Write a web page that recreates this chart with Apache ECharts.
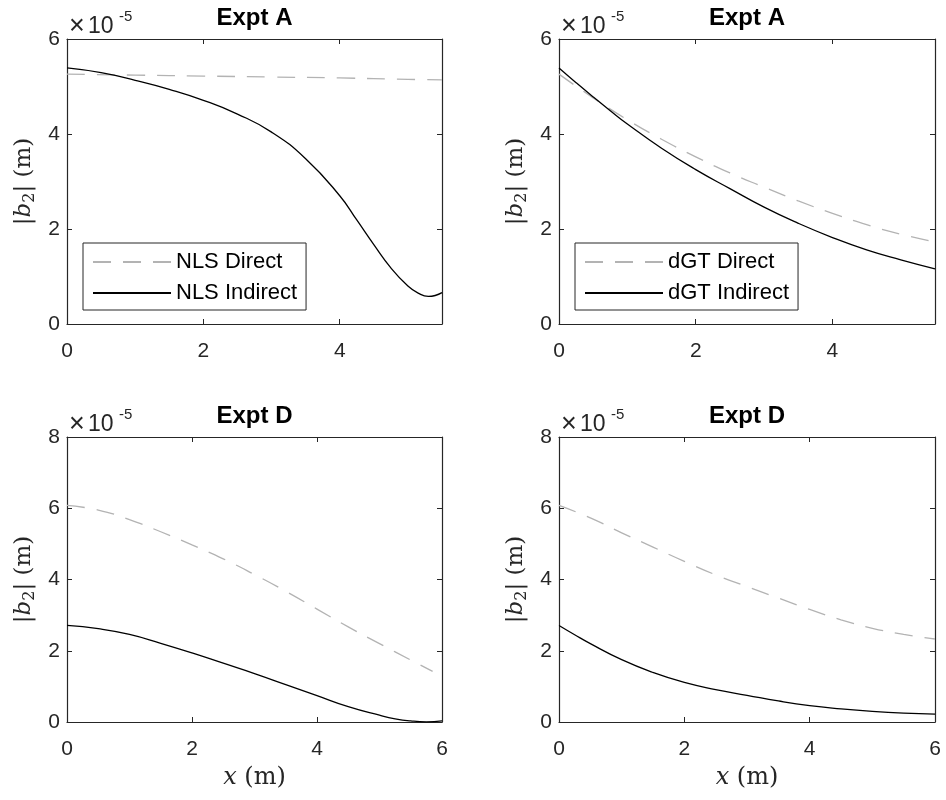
<!DOCTYPE html>
<html><head><meta charset="utf-8">
<script src="https://cdn.jsdelivr.net/npm/echarts@6/dist/echarts.min.js"></script>
<style>html,body{margin:0;padding:0;background:#fff}#c{width:946px;height:800px}</style>
</head><body><div id="c"></div><script>
// y values in units of 1e-5 m
const titles = ['Expt A', 'Expt A', 'Expt D', 'Expt D'];
const legendA1 = ['NLS Direct', 'NLS Indirect'];
const legendA2 = ['dGT Direct', 'dGT Indirect'];

const xNLSA_dir = [0, 1, 2, 3, 4, 5, 5.5];
const yNLSA_dir = [5.26, 5.24, 5.22, 5.20, 5.18, 5.15, 5.14];
const xNLSA_ind = [0, 0.5, 1, 1.5, 2, 2.5, 3, 3.5, 4, 4.25, 4.5, 4.75, 5, 5.15, 5.3, 5.4, 5.5];
const yNLSA_ind = [5.39, 5.29, 5.13, 4.94, 4.71, 4.42, 4.04, 3.48, 2.70, 2.19, 1.67, 1.18, 0.80, 0.65, 0.58, 0.60, 0.66];

const xDGTA_dir = [0, 0.5, 1, 1.5, 2, 2.5, 3, 3.5, 4, 4.5, 5, 5.5];
const yDGTA_dir = [5.26, 4.76, 4.30, 3.89, 3.52, 3.18, 2.88, 2.59, 2.33, 2.09, 1.89, 1.73];
const xDGTA_ind = [0, 0.25, 0.5, 0.75, 1, 1.5, 2, 2.5, 3, 3.5, 4, 4.5, 5, 5.5];
const yDGTA_ind = [5.39, 5.08, 4.78, 4.49, 4.21, 3.70, 3.25, 2.85, 2.46, 2.12, 1.82, 1.56, 1.35, 1.16];

const xNLSD_dir = [0, 0.5, 1, 1.5, 2, 2.5, 3, 3.5, 4, 4.5, 5, 5.5, 5.85];
const yNLSD_dir = [6.08, 5.95, 5.68, 5.34, 4.97, 4.58, 4.14, 3.67, 3.17, 2.67, 2.20, 1.74, 1.42];
const xNLSD_ind = [0, 0.5, 1, 1.5, 2, 2.5, 3, 3.5, 4, 4.5, 5, 5.25, 5.5, 5.75, 6];
const yNLSD_ind = [2.71, 2.62, 2.46, 2.21, 1.94, 1.65, 1.36, 1.05, 0.74, 0.43, 0.19, 0.09, 0.03, 0.005, 0.03];

const xDGTD_dir = [0, 0.5, 1, 1.5, 2, 2.5, 3, 3.5, 4, 4.5, 5, 5.5, 6];
const yDGTD_dir = [6.08, 5.73, 5.31, 4.91, 4.51, 4.13, 3.80, 3.48, 3.16, 2.87, 2.63, 2.46, 2.33];
const xDGTD_ind = [0, 0.25, 0.5, 1, 1.5, 2, 2.5, 3, 3.5, 4, 4.5, 5, 5.5, 6];
const yDGTD_ind = [2.71, 2.45, 2.20, 1.75, 1.39, 1.11, 0.91, 0.75, 0.59, 0.46, 0.37, 0.30, 0.25, 0.22];

const pairs = (xs, ys) => xs.map((x, i) => [x, ys[i]]);

const grids = [
  {left: 67, top: 39, width: 375, height: 285},
  {left: 559, top: 39, width: 376, height: 285},
  {left: 67, top: 437, width: 375, height: 285},
  {left: 559, top: 437, width: 376, height: 285}
];
const xMax = [5.5, 5.5, 6, 6];
const yMax = [6, 6, 8, 8];
const AX = '#262626';
const SANS = 'Liberation Sans, Arial, Helvetica, sans-serif';
const SERIF = 'DejaVu Serif, serif';

const yName = '{a||}{b|b}{s|2}{a|| (m)}';
const yRich = {
  a: {fontFamily: SERIF, fontSize: 23, color: AX, lineHeight: 27},
  b: {fontFamily: SERIF, fontStyle: 'italic', fontSize: 23, color: AX, lineHeight: 27},
  s: {fontFamily: SERIF, fontSize: 16, color: AX, verticalAlign: 'bottom', lineHeight: 10}
};
const xName = '{i|x}{a| (m)}';
const xRich = {
  i: {fontFamily: SERIF, fontStyle: 'italic', fontSize: 24, color: AX},
  a: {fontFamily: SERIF, fontSize: 24, color: AX}
};

const xAxes = [], yAxes = [];
for (let i = 0; i < 4; i++) {
  xAxes.push({
    type: 'value', gridIndex: i, min: 0, max: xMax[i], interval: 2, position: 'bottom',
    axisLine: {show: true, onZero: false, lineStyle: {color: AX, width: 1.2}},
    axisTick: {show: true, inside: true, length: 5, lineStyle: {color: AX}},
    axisLabel: {show: true, color: AX, fontSize: 21, fontFamily: SANS, margin: 17, showMaxLabel: i >= 2},
    splitLine: {show: false},
    name: i >= 2 ? xName : '', nameLocation: 'middle', nameGap: 44,
    nameTextStyle: {rich: xRich}
  });
  yAxes.push({
    type: 'value', gridIndex: i, min: 0, max: yMax[i], interval: 2, position: 'left',
    axisLine: {show: true, onZero: false, lineStyle: {color: AX, width: 1.2}},
    axisTick: {show: true, inside: true, length: 5, lineStyle: {color: AX}},
    axisLabel: {show: true, color: AX, fontSize: 21, fontFamily: SANS, margin: 7},
    splitLine: {show: false},
    name: yName, nameLocation: 'middle', nameGap: 29, nameRotate: 90,
    nameTextStyle: {rich: yRich}
  });
}
for (let i = 0; i < 4; i++) {
  xAxes.push({
    type: 'value', gridIndex: i, min: 0, max: xMax[i], interval: 2, position: 'top',
    axisLine: {show: true, onZero: false, lineStyle: {color: AX, width: 1.2}},
    axisTick: {show: true, inside: true, length: 5, lineStyle: {color: AX}},
    axisLabel: {show: false}, splitLine: {show: false}
  });
  yAxes.push({
    type: 'value', gridIndex: i, min: 0, max: yMax[i], interval: 2, position: 'right',
    axisLine: {show: true, onZero: false, lineStyle: {color: AX, width: 1.2}},
    axisTick: {show: true, inside: true, length: 5, lineStyle: {color: AX}},
    axisLabel: {show: false}, splitLine: {show: false}
  });
}

const dashStyle = {color: '#b3b3b3', width: 1.3, type: [18, 12]};
const solidStyle = {color: '#000000', width: 1.3, type: 'solid'};
function line(name, idx, data, style) {
  return {
    name: name, type: 'line', xAxisIndex: idx, yAxisIndex: idx, data: data,
    symbol: 'none', smooth: 0.5, lineStyle: style, itemStyle: {color: style.color},
    animation: false, silent: true, clip: true
  };
}
const series = [
  line(legendA1[0], 0, pairs(xNLSA_dir, yNLSA_dir), dashStyle),
  line(legendA1[1], 0, pairs(xNLSA_ind, yNLSA_ind), solidStyle),
  line(legendA2[0], 1, pairs(xDGTA_dir, yDGTA_dir), dashStyle),
  line(legendA2[1], 1, pairs(xDGTA_ind, yDGTA_ind), solidStyle),
  line('NLS Direct D', 2, pairs(xNLSD_dir, yNLSD_dir), dashStyle),
  line('NLS Indirect D', 2, pairs(xNLSD_ind, yNLSD_ind), solidStyle),
  line('dGT Direct D', 3, pairs(xDGTD_dir, yDGTD_dir), dashStyle),
  line('dGT Indirect D', 3, pairs(xDGTD_ind, yDGTD_ind), solidStyle)
];

function legend(data, left) {
  return {
    data: data, orient: 'vertical', left: left, top: 243,
    itemWidth: 78, itemHeight: 22, itemGap: 9, padding: [8, 9, 6, 9],
    borderColor: AX, borderWidth: 1, backgroundColor: '#ffffff',
    selectedMode: false,
    itemStyle: {opacity: 0, color: 'rgba(0,0,0,0)', borderWidth: 0},
    textStyle: {fontSize: 22, color: '#000', fontFamily: SANS}
  };
}

const titleOpts = titles.map((t, i) => ({
  text: t, left: grids[i].left + grids[i].width / 2, top: grids[i].top - 33,
  textAlign: 'center', padding: 0,
  textStyle: {fontSize: 24, fontWeight: 'bold', color: '#000', fontFamily: SANS, lineHeight: 25}
}));

const expLabels = [];
grids.forEach(g => {
  expLabels.push({type: 'text', x: g.left + 2, y: g.top - 12,
    style: {text: '\u00d7', fontSize: 27, fontFamily: SANS, fill: AX, align: 'left', verticalAlign: 'middle'}});
  expLabels.push({type: 'text', x: g.left + 21, y: g.top - 12,
    style: {text: '10', fontSize: 23, fontFamily: SANS, fill: AX, align: 'left', verticalAlign: 'middle'}});
  expLabels.push({type: 'text', x: g.left + 52, y: g.top - 22,
    style: {text: '-5', fontSize: 15, fontFamily: SANS, fill: AX, align: 'left', verticalAlign: 'middle'}});
});

const chart = echarts.init(document.getElementById('c'), null, {renderer: 'canvas'});
chart.setOption({
  backgroundColor: '#ffffff',
  animation: false,
  title: titleOpts,
  grid: grids.map(g => Object.assign({containLabel: false, outerBoundsMode: 'none'}, g)),
  xAxis: xAxes,
  yAxis: yAxes,
  legend: [legend(legendA1, 83), legend(legendA2, 575)],
  graphic: expLabels,
  series: series
});
</script></body></html>
